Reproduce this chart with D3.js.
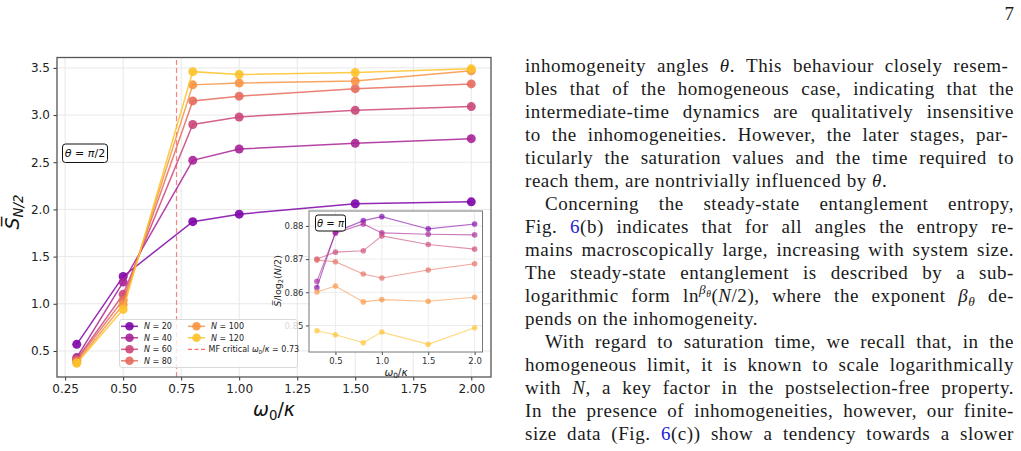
<!DOCTYPE html>
<html lang="en">
<head>
<meta charset="UTF-8">
<title>Steady-state entanglement vs omega0/kappa</title>
<script src="https://d3js.org/d3.v7.min.js"></script>
<style>
  body { margin: 0; background: #fff; }
  svg { display: block; }
</style>
</head>
<body>
<svg id="page" width="1021" height="451"></svg>
<script>
// ---- data ----
const omega = [0.3, 0.5, 0.8, 1.0, 1.5, 2.0];
const sizes = [20, 40, 60, 80, 100, 120];
// main panel, theta = pi/2
const entropy = [
  [0.57, 1.29, 1.87, 1.95, 2.06, 2.08],
  [0.43, 1.23, 2.52, 2.64, 2.70, 2.75],
  [0.41, 1.10, 2.90, 2.98, 3.05, 3.09],
  [0.40, 1.04, 3.15, 3.20, 3.28, 3.33],
  [0.38, 0.99, 3.32, 3.34, 3.36, 3.47],
  [0.37, 0.94, 3.46, 3.43, 3.45, 3.49]
];
// inset, theta = pi, S / log2(N/2)
const entropyNorm = [
  [0.8614, 0.8781, 0.8816, 0.8828, 0.8791, 0.8806],
  [0.8633, 0.8778, 0.8806, 0.8779, 0.8775, 0.8773],
  [0.8700, 0.8721, 0.8725, 0.8770, 0.8744, 0.8730],
  [0.8697, 0.8692, 0.8655, 0.8643, 0.8667, 0.8686],
  [0.8601, 0.8619, 0.8571, 0.8578, 0.8573, 0.8585],
  [0.8484, 0.8472, 0.8448, 0.8480, 0.8443, 0.8493]
];
const mfCritical = 0.73;
const mainXTicks = [0.25, 0.5, 0.75, 1.0, 1.25, 1.5, 1.75, 2.0];
const mainYTicks = [0.5, 1.0, 1.5, 2.0, 2.5, 3.0, 3.5];
const insetXTicks = [0.5, 1.0, 1.5, 2.0];
const insetYTicks = [0.85, 0.86, 0.87, 0.88];

// running text of the page column
const bodyLines = [
  {parts: [["inhomogeneity angles "], ["θ", "i"], [".  This behaviour closely resem-"]], justify: true},
  {parts: [["bles that of the homogeneous case, indicating that the"]], justify: true},
  {parts: [["intermediate-time dynamics are qualitatively insensitive"]], justify: true},
  {parts: [["to the inhomogeneities.  However, the later stages, par-"]], justify: true},
  {parts: [["ticularly the saturation values and the time required to"]], justify: true},
  {parts: [["reach them, are nontrivially influenced by "], ["θ", "i"], ["."]], justify: false},
  {parts: [["Concerning the steady-state entanglement entropy,"]], justify: true, indent: true},
  {parts: [["Fig. "], ["6", "blue"], ["(b) indicates that for all angles the entropy re-"]], justify: true},
  {parts: [["mains macroscopically large, increasing with system size."]], justify: true},
  {parts: [["The steady-state entanglement is described by a sub-"]], justify: true},
  {parts: [["logarithmic form ln"], ["β", "i sup"], ["θ", "i supsub"], ["("], ["N", "i"], ["/2), where the exponent "], ["β", "i"], ["θ", "i sub"], [" de-"]], justify: true},
  {parts: [["pends on the inhomogeneity."]], justify: false},
  {parts: [["With regard to saturation time, we recall that, in the"]], justify: true, indent: true},
  {parts: [["homogeneous limit, it is known to scale logarithmically"]], justify: true},
  {parts: [["with "], ["N", "i"], [", a key factor in the postselection-free property."]], justify: true},
  {parts: [["In the presence of inhomogeneities, however, our finite-"]], justify: true},
  {parts: [["size data (Fig. "], ["6", "blue"], ["(c)) show a tendency towards a slower"]], justify: true}
];

const svg = d3.select("#page");
const colors = sizes.map((n, i) => d3.interpolatePlasma(0.25 + i * 0.124));
const sans = "DejaVu Sans";

// append tspans for a small piece of math / styled text
function richText(sel, parts, size) {
  let shift = 0;
  parts.forEach(([t, k = ""]) => {
    const ts = sel.append("tspan").text(t);
    let target = 0, fs = size;
    if (k.includes("supsub")) { target = -0.25 * size; fs = size * 0.5; }
    else if (k.includes("sup")) { target = -0.38 * size; fs = size * 0.7; }
    else if (k.includes("sub")) { target = 0.22 * size; fs = size * 0.7; }
    ts.attr("dy", target - shift).attr("font-size", fs);
    shift = target;
    if (k.includes("i")) ts.attr("font-style", "italic");
    if (k.includes("blue")) ts.attr("fill", "#1d1dd6");
  });
  return sel;
}

// ---------------- main panel ----------------
const x = d3.scaleLinear().domain([0.215, 2.085]).range([57, 491]);
const y = d3.scaleLinear().domain([0.224, 3.61]).range([377, 57.5]);
const main = svg.append("g");

main.append("g").selectAll("line").data(mainXTicks).join("line")
  .attr("x1", d => x(d)).attr("x2", d => x(d))
  .attr("y1", y.range()[0]).attr("y2", y.range()[1])
  .attr("stroke", "#e8e8e8");
main.append("g").selectAll("line").data(mainYTicks).join("line")
  .attr("y1", d => y(d)).attr("y2", d => y(d))
  .attr("x1", x.range()[0]).attr("x2", x.range()[1])
  .attr("stroke", "#e8e8e8");

main.append("line")
  .attr("x1", x(mfCritical)).attr("x2", x(mfCritical))
  .attr("y1", y.range()[0]).attr("y2", y.range()[1])
  .attr("stroke", "#ff6b6b").attr("stroke-width", 1.2)
  .attr("stroke-dasharray", "5,3").attr("opacity", 0.85);

const line = d3.line().x((d, i) => x(omega[i])).y(d => y(d));
entropy.forEach((vals, s) => {
  const g = main.append("g");
  g.append("path").datum(vals).attr("d", line)
    .attr("fill", "none").attr("stroke", colors[s])
    .attr("stroke-width", 1.5).attr("opacity", 0.85);
  g.selectAll("circle").data(vals).join("circle")
    .attr("cx", (d, i) => x(omega[i])).attr("cy", d => y(d))
    .attr("r", 4.5).attr("fill", colors[s]).attr("opacity", 0.9);
});

const xAxis = main.append("g").attr("transform", `translate(0,${y.range()[0]})`)
  .call(d3.axisBottom(x).tickValues(mainXTicks).tickFormat(d3.format(".2f")).tickSize(3.5).tickPadding(4));
const yAxis = main.append("g").attr("transform", `translate(${x.range()[0]},0)`)
  .call(d3.axisLeft(y).tickValues(mainYTicks).tickFormat(d3.format(".1f")).tickSize(3.5).tickPadding(3.5));
[xAxis, yAxis].forEach(a => {
  a.select(".domain").remove();
  a.attr("font-family", sans).attr("font-size", 12);
  a.selectAll("text").attr("fill", "#222");
  a.selectAll("line").attr("stroke", "#333");
});

main.append("rect")
  .attr("x", x.range()[0]).attr("y", y.range()[1])
  .attr("width", x.range()[1] - x.range()[0]).attr("height", y.range()[0] - y.range()[1])
  .attr("fill", "none").attr("stroke", "#555").attr("stroke-width", 1.3);

richText(main.append("text").attr("font-family", sans).attr("fill", "#111")
  .attr("text-anchor", "middle").attr("transform", "translate(274,416)"),
  [["ω", "i"], ["0", "sub"], ["/"], ["κ", "i"]], 19);
richText(main.append("text").attr("font-family", sans).attr("fill", "#111")
  .attr("text-anchor", "middle").attr("transform", "translate(19,212) rotate(-90)"),
  [["S\u0305", "i"], ["N/2", "i sub"]], 19);

// theta label
main.append("rect").attr("x", 62.5).attr("y", 144).attr("width", 45).attr("height", 18.5)
  .attr("rx", 3).attr("fill", "#fff").attr("stroke", "#111").attr("stroke-width", 1);
richText(main.append("text").attr("font-family", sans).attr("fill", "#111")
  .attr("text-anchor", "middle").attr("x", 85).attr("y", 157.2),
  [["θ", "i"], [" = "], ["π", "i"], ["/2"]], 11);

// ---------------- inset ----------------
const xi = d3.scaleLinear().domain([0.215, 2.085]).range([309, 482.5]);
const yi = d3.scaleLinear().domain([0.842, 0.8845]).range([352, 211]);
const inset = svg.append("g");
inset.append("rect").attr("x", 309).attr("y", 211)
  .attr("width", xi.range()[1] - xi.range()[0]).attr("height", yi.range()[0] - yi.range()[1])
  .attr("fill", "#fff");
inset.append("g").selectAll("line").data(insetXTicks).join("line")
  .attr("x1", d => xi(d)).attr("x2", d => xi(d))
  .attr("y1", yi.range()[0]).attr("y2", yi.range()[1]).attr("stroke", "#ececec");
inset.append("g").selectAll("line").data(insetYTicks).join("line")
  .attr("y1", d => yi(d)).attr("y2", d => yi(d))
  .attr("x1", xi.range()[0]).attr("x2", xi.range()[1]).attr("stroke", "#ececec");

const lineI = d3.line().x((d, i) => xi(omega[i])).y(d => yi(d));
entropyNorm.forEach((vals, s) => {
  const g = inset.append("g");
  g.append("path").datum(vals).attr("d", lineI)
    .attr("fill", "none").attr("stroke", colors[s])
    .attr("stroke-width", 1.1).attr("opacity", 0.6);
  g.selectAll("circle").data(vals).join("circle")
    .attr("cx", (d, i) => xi(omega[i])).attr("cy", d => yi(d))
    .attr("r", 2.8).attr("fill", colors[s]).attr("opacity", 0.65);
});

const xAxisI = inset.append("g").attr("transform", `translate(0,${yi.range()[0]})`)
  .call(d3.axisBottom(xi).tickValues(insetXTicks).tickFormat(d3.format(".1f")).tickSize(3).tickPadding(2.5));
const yAxisI = inset.append("g").attr("transform", `translate(${xi.range()[0]},0)`)
  .call(d3.axisLeft(yi).tickValues(insetYTicks).tickFormat(d3.format(".2f")).tickSize(3).tickPadding(2.5));
[xAxisI, yAxisI].forEach(a => {
  a.select(".domain").remove();
  a.attr("font-family", sans).attr("font-size", 8.5);
  a.selectAll("text").attr("fill", "#333");
  a.selectAll("line").attr("stroke", "#444");
});
inset.append("rect").attr("x", 309).attr("y", 211)
  .attr("width", xi.range()[1] - xi.range()[0]).attr("height", yi.range()[0] - yi.range()[1])
  .attr("fill", "none").attr("stroke", "#777").attr("stroke-width", 1);

richText(inset.append("text").attr("font-family", sans).attr("fill", "#222")
  .attr("text-anchor", "middle").attr("x", 396).attr("y", 375.5),
  [["ω", "i"], ["0", "sub"], ["/"], ["κ", "i"]], 10.5);
richText(inset.append("text").attr("font-family", sans).attr("fill", "#222")
  .attr("text-anchor", "middle").attr("transform", "translate(281,281) rotate(-90)"),
  [["S\u0305", "i"], ["/log"], ["2", "sub"], ["("], ["N", "i"], ["/2)"]], 9.5);

inset.append("rect").attr("x", 315.5).attr("y", 215).attr("width", 30).attr("height", 16)
  .attr("rx", 2.5).attr("fill", "#fff").attr("stroke", "#111").attr("stroke-width", 1);
richText(inset.append("text").attr("font-family", sans).attr("fill", "#111")
  .attr("text-anchor", "middle").attr("x", 330.5).attr("y", 226.8),
  [["θ", "i"], [" = "], ["π", "i"]], 10);

// ---------------- legend ----------------
const legend = svg.append("g");
legend.append("rect").attr("x", 119.5).attr("y", 319.5).attr("width", 178).attr("height", 48)
  .attr("rx", 2.5).attr("fill", "#fff").attr("fill-opacity", 0.8)
  .attr("stroke", "#d0d0d0").attr("stroke-width", 0.8);
const legendItems = sizes.map((n, i) => ({
  label: n, color: colors[i],
  col: i < 4 ? 0 : 1, row: i < 4 ? i : i - 4
}));
legendItems.push({label: "mf", color: "#ff6b6b", col: 1, row: 2});
legendItems.forEach(it => {
  const cx = it.col === 0 ? 129.5 : 196.5;
  const cy = 326.3 + it.row * 11.5;
  const g = legend.append("g");
  if (it.label === "mf") {
    g.append("line").attr("x1", cx - 8.5).attr("x2", cx + 8.5).attr("y1", cy).attr("y2", cy)
      .attr("stroke", it.color).attr("stroke-width", 1.2).attr("stroke-dasharray", "4,2.5");
    richText(g.append("text").attr("font-family", sans).attr("fill", "#222")
      .attr("x", cx + 12).attr("y", cy + 3),
      [["MF critical "], ["ω", "i"], ["0", "sub"], ["/"], ["κ", "i"], [" = 0.73"]], 8);
  } else {
    g.append("line").attr("x1", cx - 8.5).attr("x2", cx + 8.5).attr("y1", cy).attr("y2", cy)
      .attr("stroke", it.color).attr("stroke-width", 1.5).attr("opacity", 0.85);
    g.append("circle").attr("cx", cx).attr("cy", cy).attr("r", 4.3).attr("fill", it.color).attr("opacity", 0.9);
    richText(g.append("text").attr("font-family", sans).attr("fill", "#222")
      .attr("x", cx + 14.5).attr("y", cy + 3),
      [["N", "i"], [" = " + it.label]], 8);
  }
});

// ---------------- page text ----------------
const colLeft = 525, colRight = 1014, indentW = 20;
const textG = svg.append("g").attr("font-family", "Liberation Serif").attr("fill", "#1a1a1a");
textG.append("text").attr("x", colRight).attr("y", 20).attr("text-anchor", "end")
  .attr("font-size", 19).text("7");
bodyLines.forEach((ln, k) => {
  const x0 = colLeft + (ln.indent ? indentW : 0);
  const t = textG.append("text").attr("x", x0).attr("y", 71.5 + 23 * k)
    .attr("font-size", 19).style("letter-spacing", "0.55px");
  richText(t, ln.parts, 19);
  if (ln.justify) {
    const natural = t.node().getComputedTextLength();
    const spaces = ln.parts.map(p => p[0]).join("").split(" ").length - 1;
    if (spaces > 0) t.style("word-spacing", ((colRight - x0 - natural) / spaces) + "px");
  }
});
</script>
</body>
</html>
